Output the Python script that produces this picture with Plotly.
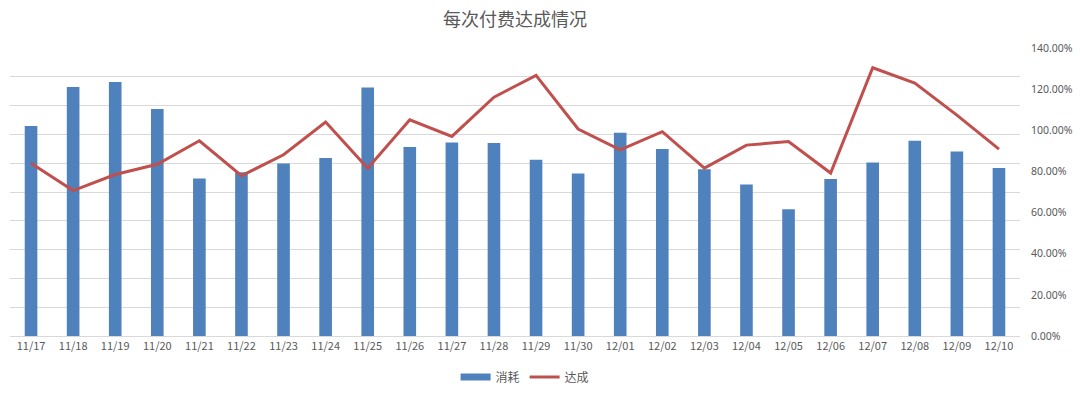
import plotly.graph_objects as go

dates = ["11/17", "11/18", "11/19", "11/20", "11/21", "11/22", "11/23", "11/24",
         "11/25", "11/26", "11/27", "11/28", "11/29", "11/30", "12/01", "12/02",
         "12/03", "12/04", "12/05", "12/06", "12/07", "12/08", "12/09", "12/10"]
consumption = [72.9, 86.5, 88.2, 78.8, 54.7, 56.9, 59.9, 61.8,
               86.3, 65.6, 67.2, 67.0, 61.2, 56.4, 70.6, 64.9,
               57.9, 52.6, 44.0, 54.5, 60.2, 67.8, 64.1, 58.3]
achieved = [0.840, 0.707, 0.785, 0.835, 0.949, 0.779, 0.881, 1.040,
            0.816, 1.051, 0.970, 1.161, 1.267, 1.006, 0.905, 0.993,
            0.816, 0.928, 0.945, 0.792, 1.304, 1.230, 1.074, 0.908]

BLUE = "#4f81bd"
RED = "#c0504d"

fig = go.Figure()
fig.add_trace(go.Bar(x=dates, y=consumption, name="消耗",
                     marker=dict(color=BLUE, line=dict(width=0)),
                     yaxis="y", showlegend=False, legendgroup="a"))
# legend-only swatch in the Excel style (wide thick bar)
fig.add_trace(go.Scatter(x=[None], y=[None], name="消耗", mode="lines",
                         line=dict(color=BLUE, width=7), legendgroup="a"))
fig.add_trace(go.Scatter(x=dates, y=achieved, name="达成", mode="lines",
                         line=dict(color=RED, width=3),
                         yaxis="y2"))

font_family = "Noto Sans CJK SC, Noto Sans, sans-serif"
fig.update_layout(
    width=1080, height=394,
    margin=dict(l=10, r=60, t=48, b=58, autoexpand=False),
    paper_bgcolor="white", plot_bgcolor="white",
    font=dict(family=font_family, color="#595959", size=11),
    bargap=0.7,
    title=dict(text="每次付费达成情况", x=0.5, xref="paper", xanchor="center",
               y=1 - 20 / 394, yanchor="middle", automargin=False,
               font=dict(size=18, color="#595959", family=font_family)),
    xaxis=dict(showgrid=False, showline=True, linecolor="#d9d9d9", ticks="",
               automargin=False, tickfont=dict(size=11, color="#595959")),
    yaxis=dict(range=[0, 100], dtick=10, showticklabels=False, showgrid=True,
               gridcolor="#d9d9d9", gridwidth=1, zeroline=False, ticks="",
               automargin=False),
    yaxis2=dict(range=[0, 1.4], dtick=0.2, tickformat=".2%", overlaying="y",
                side="right", showgrid=False, zeroline=False, ticks="",
                ticklabelstandoff=10, automargin=False,
                tickfont=dict(size=10.5, color="#595959",
                              family="Liberation Sans Narrow, Noto Sans, sans-serif")),
    legend=dict(orientation="h", x=0.51, xanchor="center", y=-41 / 288,
                yanchor="middle", font=dict(size=12, color="#595959"),
                itemwidth=30, tracegroupgap=0),
    showlegend=True,
)

fig.write_html("out.html", config={"displayModeBar": False},
               post_script="document.body.style.margin='0';document.body.style.padding='0';")
